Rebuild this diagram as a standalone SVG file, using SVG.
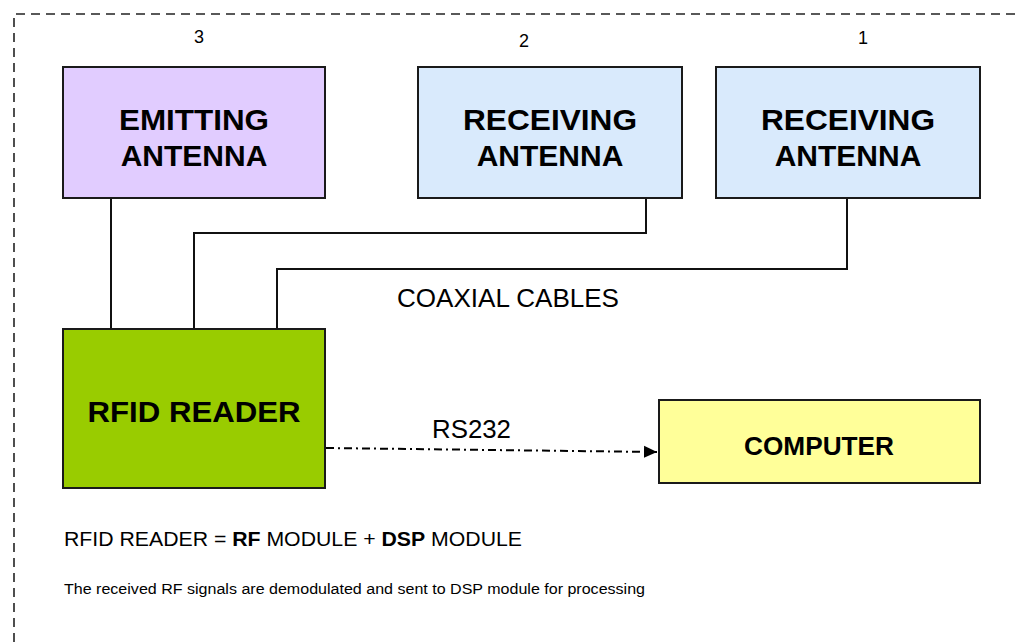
<svg xmlns="http://www.w3.org/2000/svg" width="1015" height="642" viewBox="0 0 1015 642">
<defs>
<style>
.box{stroke:#1a1a1a;stroke-width:2}
.big{font-family:"Liberation Sans",Arial,sans-serif;font-weight:bold;font-size:30px;fill:#000;text-anchor:middle}
.lbl{font-family:"Liberation Sans",Arial,sans-serif;font-size:25px;fill:#000;text-anchor:middle}
.num{font-family:"Liberation Sans",Arial,sans-serif;font-size:18px;fill:#000;text-anchor:middle}
.note{font-family:"Liberation Sans",Arial,sans-serif;fill:#000}
.wire{fill:none;stroke:#111;stroke-width:2}
</style>
<marker id="arr" markerWidth="14" markerHeight="14" refX="13" refY="7" orient="auto" markerUnits="userSpaceOnUse">
<path d="M0,1 L13,7 L0,13 Z" fill="#000"/>
</marker>
</defs>
<rect width="1015" height="642" fill="#fff"/>
<path d="M14,642 L14,14 L1015,14" fill="none" stroke="#222" stroke-width="1.6" stroke-dasharray="9 6"/>

<g id="connectors">
<path class="wire" d="M111,198 L111,329"/>
<path class="wire" d="M646,198 L646,233 L194,233 L194,329"/>
<path class="wire" d="M847,198 L847,269 L277,269 L277,329"/>
<path d="M326,448 L657,452" fill="none" stroke="#000" stroke-width="2" stroke-dasharray="8 4 2 4" marker-end="url(#arr)"/>
</g>

<g id="emitting">
<rect class="box" x="63" y="67" width="262" height="131" fill="#E1CCFF"/>
<text class="big" x="194" y="130" textLength="150" lengthAdjust="spacingAndGlyphs">EMITTING</text>
<text class="big" x="194" y="166">ANTENNA</text>
<text class="num" x="199" y="43">3</text>
</g>

<g id="receiving2">
<rect class="box" x="418" y="67" width="264" height="131" fill="#D9EAFC"/>
<text class="big" x="550" y="130" textLength="174" lengthAdjust="spacingAndGlyphs">RECEIVING</text>
<text class="big" x="550" y="166">ANTENNA</text>
<text class="num" x="524" y="47">2</text>
</g>

<g id="receiving1">
<rect class="box" x="716" y="67" width="264" height="131" fill="#D9EAFC"/>
<text class="big" x="848" y="130" textLength="174" lengthAdjust="spacingAndGlyphs">RECEIVING</text>
<text class="big" x="848" y="166">ANTENNA</text>
<text class="num" x="863" y="44">1</text>
</g>

<g id="rfid-reader">
<rect class="box" x="63" y="329" width="262" height="159" fill="#99CC00"/>
<text class="big" x="194" y="422" textLength="213" lengthAdjust="spacingAndGlyphs">RFID READER</text>
</g>

<g id="computer">
<rect class="box" x="659" y="400" width="321" height="83" fill="#FFFF99"/>
<text class="big" x="819" y="455" style="font-size:26px" textLength="150" lengthAdjust="spacingAndGlyphs">COMPUTER</text>
</g>

<text class="lbl" x="508" y="307" textLength="222" lengthAdjust="spacingAndGlyphs">COAXIAL CABLES</text>
<text class="lbl" x="471.5" y="438" textLength="79" lengthAdjust="spacingAndGlyphs">RS232</text>

<text class="note" x="64" y="546" font-size="21" textLength="458" lengthAdjust="spacingAndGlyphs">RFID READER = <tspan font-weight="bold">RF</tspan> MODULE + <tspan font-weight="bold">DSP</tspan> MODULE</text>
<text class="note" x="64" y="594" font-size="14" textLength="581" lengthAdjust="spacingAndGlyphs">The received RF signals are demodulated and sent to DSP module for processing</text>
</svg>
